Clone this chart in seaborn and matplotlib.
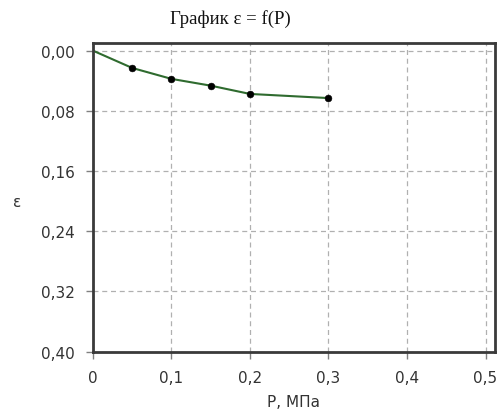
import matplotlib
matplotlib.use("Agg")
import matplotlib.pyplot as plt
import seaborn as sns
import pandas as pd
from matplotlib.ticker import FuncFormatter

P_line = [0.0, 0.05, 0.1, 0.15, 0.2, 0.3]
eps_line = [0.0, 0.023, 0.0375, 0.0465, 0.0575, 0.063]
P_pts = [0.05, 0.1, 0.15, 0.2, 0.3]
eps_pts = [0.023, 0.0375, 0.0465, 0.0575, 0.063]
x_ticks = [0, 0.1, 0.2, 0.3, 0.4, 0.5]
y_ticks = [0.0, 0.08, 0.16, 0.24, 0.32, 0.40]

sns.set_style("white")
plt.rcParams['font.family'] = ['DejaVu Sans']

fig = plt.figure(figsize=(5.04, 4.10), dpi=100)
ax = fig.add_axes([0.1845, 0.1398, 0.7975, 0.7529])

df_line = pd.DataFrame({"P": P_line, "eps": eps_line})
df_pts = pd.DataFrame({"P": P_pts, "eps": eps_pts})
sns.lineplot(data=df_line, x="P", y="eps", ax=ax, color="#2f6b2f", lw=1.5, sort=False)
sns.scatterplot(data=df_pts, x="P", y="eps", ax=ax, color="black", s=24, edgecolor="black", zorder=5)

ax.set_xlim(0, 0.512)
ax.set_ylim(0.40, -0.0102)
ax.set_xticks(x_ticks)
ax.set_yticks(y_ticks)
ax.xaxis.set_major_formatter(FuncFormatter(lambda v, p: "0" if v == 0 else f"{v:.1f}".replace(".", ",")))
ax.yaxis.set_major_formatter(FuncFormatter(lambda v, p: f"{v:.2f}".replace(".", ",")))
ax.grid(True, color="#b0b0b0", linestyle=(0, (4, 3)), lw=0.9)
for s in ax.spines.values():
    s.set_color("#3a3a3a")
    s.set_linewidth(2)
ax.tick_params(axis="both", direction="out", length=5, width=1, color="#808080",
               labelsize=11, labelcolor="#333333", left=True, bottom=True)
ax.tick_params(axis="x", pad=8)
ax.tick_params(axis="y", pad=8)
ax.set_xlabel("")
ax.set_ylabel("")
fig.text(0.582, 1 - 403 / 410, "P, МПа", fontsize=11, color="#333333", ha="center", va="center")
fig.text(17 / 504, 1 - 203 / 410, "ε", fontsize=11, color="#333333", ha="center", va="center")
fig.text(230 / 504, 1 - 19 / 410, "График ε = f(P)", fontsize=13.5, family="Liberation Serif",
         ha="center", va="center", color="#111111")

fig.savefig("out.png", dpi=100)
